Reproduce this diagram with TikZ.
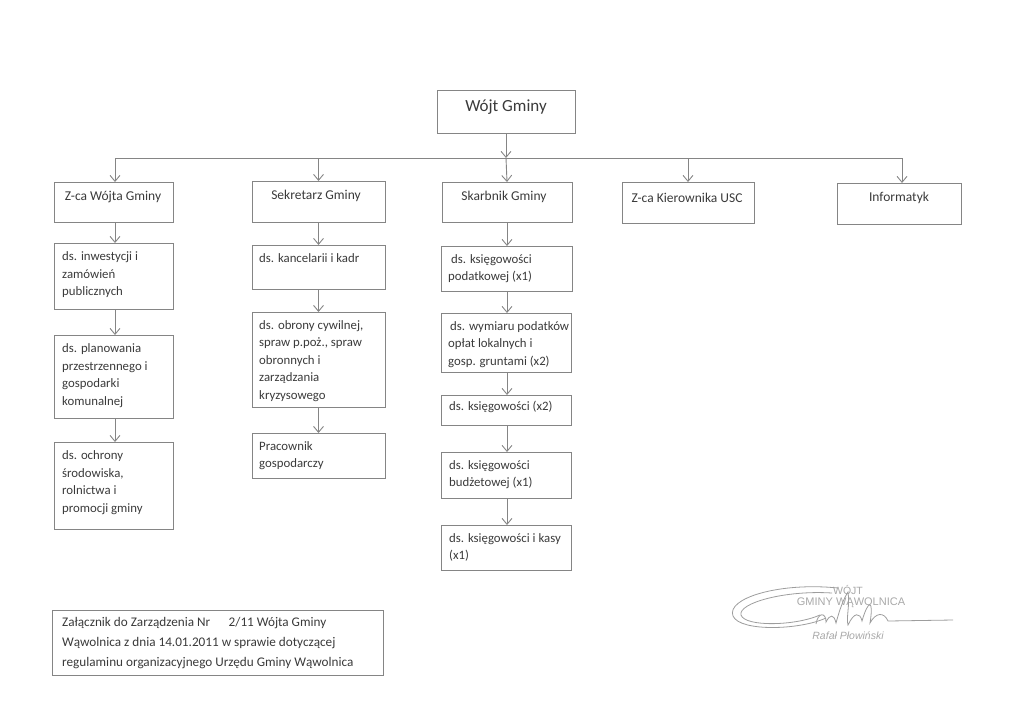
\documentclass[tikz,border=0pt]{standalone}
\usepackage{fontspec}
\setmainfont{Carlito}
\newfontfamily\stampfont{Liberation Sans}
\usetikzlibrary{arrows.meta,calc}
\definecolor{ln}{HTML}{858585}
\definecolor{tx}{HTML}{3A3A3A}
\definecolor{st}{HTML}{A8A8A8}
\tikzset{
  box/.style={draw=ln, line width=0.9pt, inner sep=0pt, outer sep=0pt, fill=none},
  arr/.style={draw=ln, line width=0.9pt, -{Straight Barb[length=6pt,width=10pt]}},
  lin/.style={draw=ln, line width=0.9pt},
  txt/.style={text=tx, align=left, inner sep=0pt, anchor=north west, font=\fontsize{12.8}{17.5}\selectfont},
  head/.style={text=tx, inner sep=0pt, font=\fontsize{13.5}{16}\selectfont},
  stamp/.style={text=st, inner sep=0pt, font=\stampfont\fontsize{10.5}{12}\selectfont},
  sig/.style={draw=ln!80, line width=0.8pt}
}
\newcommand\mybox[5]{%
  \node[box, minimum width={(#4)-(#2)}, minimum height={(#5)-(#3)}] (#1) at ({((#2)+(#4))/2},{((#3)+(#5))/2}) {};}
\begin{document}
\begin{tikzpicture}[x=1pt,y=-1pt]
\useasboundingbox (0,0) rectangle (1024,718);
% boxes
\mybox{wojt}{437}{90}{575}{133}
\mybox{zca}{54}{182}{173}{222}
\mybox{sek}{252}{181}{385}{222}
\mybox{skarb}{442}{182}{572}{222}
\mybox{usc}{622}{182}{754}{223}
\mybox{inf}{837}{183}{961}{224}
\mybox{l1}{54}{243}{173}{309}
\mybox{l2}{54}{335}{173}{418}
\mybox{l3}{54}{442}{173}{529}
\mybox{s1}{252}{245}{385}{289}
\mybox{s2}{252}{312}{385}{407}
\mybox{s3}{252}{433}{385}{478}
\mybox{k1}{441}{246}{572}{291}
\mybox{k2}{441}{313}{571}{372}
\mybox{k3}{441}{395}{571}{425}
\mybox{k4}{441}{452}{571}{498}
\mybox{k5}{441}{525}{571}{570}
% headings
\node[text=tx, inner sep=0pt, font=\fontsize{17}{20}\selectfont] (t-wojt) at (506,107) {Wójt Gminy};
\node[head] (t-zca) at (113,197) {Z-ca Wójta Gminy};
\node[head] (t-sek) at (316,196) {Sekretarz Gminy};
\node[head] (t-skarb) at (504,197) {Skarbnik Gminy};
\node[head] (t-usc) at (687,198) {Z-ca Kierownika USC};
\node[head] (t-inf) at (899,198) {Informatyk};
% texts
\node[txt] (t-l1) at ($(l1.north west)+(8,8.5)$) {ds. inwestycji i\\zamówień\\publicznych};
\node[txt] (t-l2) at ($(l2.north west)+(8,8.5)$) {ds. planowania\\przestrzennego i\\gospodarki\\komunalnej};
\node[txt] (t-l3) at ($(l3.north west)+(8,8.5)$) {ds. ochrony\\środowiska,\\rolnictwa i\\promocji gminy};
\node[txt] (t-s1) at ($(s1.north west)+(7,8)$) {ds. kancelarii i kadr};
\node[txt] (t-s2) at ($(s2.north west)+(7,8)$) {ds. obrony cywilnej,\\spraw p.poż., spraw\\obronnych i\\zarządzania\\kryzysowego};
\node[txt] (t-s3) at ($(s3.north west)+(7,8)$) {Pracownik\\gospodarczy};
\node[txt] (t-k1) at ($(k1.north west)+(7,8)$) {\hspace{3pt}ds. księgowości\\podatkowej (x1)};
\node[txt] (t-k2) at ($(k2.north west)+(7,8)$) {\hspace{2pt}ds. wymiaru podatków\\opłat lokalnych i\\gosp. gruntami (x2)};
\node[txt] (t-k3) at ($(k3.north west)+(8,6)$) {ds. księgowości (x2)};
\node[txt] (t-k4) at ($(k4.north west)+(8,8)$) {ds. księgowości\\budżetowej (x1)};
\node[txt] (t-k5) at ($(k5.north west)+(8,8)$) {ds. księgowości i kasy\\(x1)};
% bus
\coordinate (bus) at (506,158);
\coordinate (busL) at (115,158);
\coordinate (busR) at (902,158);
\draw[lin] (busL) -- (busR);
\draw[arr] (wojt.south) -- (bus);
\draw[arr] (busL) -- (busL |- zca.north);
\draw[arr] (sek.north |- bus) -- (sek.north);
\draw[arr] (bus) -- (skarb.north);
\draw[arr] (usc.north |- bus) -- (usc.north);
\draw[arr] (busR) -- (busR |- inf.north);
% columns
\draw[arr] (busL |- zca.south) -- (busL |- l1.north);
\draw[arr] (busL |- l1.south) -- (busL |- l2.north);
\draw[arr] (busL |- l2.south) -- (busL |- l3.north);
\draw[arr] (sek.south) -- (sek.south |- s1.north);
\draw[arr] (s1.south) -- (s2.north);
\draw[arr] (s2.south) -- (s3.north);
\draw[arr] (skarb.south) -- (skarb.south |- k1.north);
\draw[arr] (skarb.south |- k1.south) -- (skarb.south |- k2.north);
\draw[arr] (skarb.south |- k2.south) -- (skarb.south |- k3.north);
\draw[arr] (skarb.south |- k3.south) -- (skarb.south |- k4.north);
\draw[arr] (skarb.south |- k4.south) -- (skarb.south |- k5.north);
% footer
\mybox{foot}{52}{610}{383}{675}
\node[txt, font=\fontsize{13.2}{20}\selectfont] (t-foot) at ($(foot.north west)+(10,7)$) {Załącznik do Zarządzenia Nr\hspace{1.4em}2/11 Wójta Gminy\\Wąwolnica z dnia 14.01.2011 w sprawie dotyczącej\\regulaminu organizacyjnego Urzędu Gminy Wąwolnica};
% stamp and signature
\node[stamp] (st1) at (848,590) {WÓJT};
\node[stamp, font=\stampfont\fontsize{11}{12}\selectfont] (st2) at (851,603) {GMINY WĄWOLNICA};
\node[stamp, font=\stampfont\itshape\fontsize{10.5}{12}\selectfont] (st3) at (848,636) {Rafał Płowiński};
\draw[sig] (838,588) .. controls (780,582) and (726,598) .. (733,616) .. controls (740,632) and (800,630) .. (826,618);
\draw[sig] (832,593) .. controls (785,590) and (738,603) .. (741,615) .. controls (745,627) and (795,626) .. (820,615);
\draw[sig] (816,624) .. controls (818,612) and (826,612) .. (826,622) .. controls (830,614) and (834,614) .. (836,623) .. controls (840,608) and (844,598) .. (848,592) .. controls (850,605) and (846,618) .. (848,625) .. controls (854,612) and (860,612) .. (862,621) .. controls (868,600) and (874,598) .. (870,623) .. controls (876,612) and (884,612) .. (888,621) -- (953,620);
\end{tikzpicture}
\end{document}
